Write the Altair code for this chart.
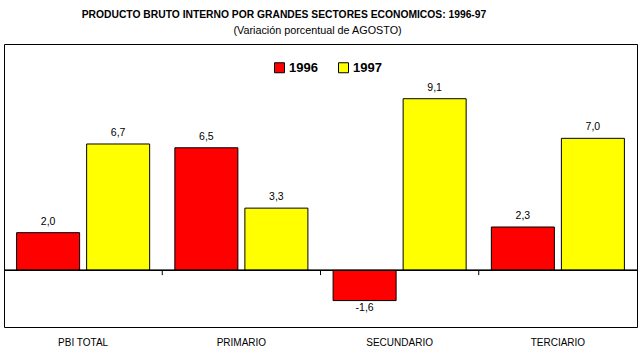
import altair as alt
import pandas as pd

title_text = "PRODUCTO BRUTO INTERNO POR GRANDES SECTORES ECONOMICOS: 1996-97"
subtitle_text = "(Variación porcentual de AGOSTO)"

categories = ["PBI TOTAL", "PRIMARIO", "SECUNDARIO", "TERCIARIO"]
years = ["1996", "1997"]
values_1996 = [2.0, 6.5, -1.6, 2.3]
values_1997 = [6.7, 3.3, 9.1, 7.0]
colors = ["#FF0000", "#FFFF00"]

rows = []
for cat, a, b in zip(categories, values_1996, values_1997):
    for yr, v in ((years[0], a), (years[1], b)):
        rows.append({"sector": cat, "year": yr, "value": v,
                     "label": f"{v:.1f}".replace(".", ",")})
df = pd.DataFrame(rows)
ticks_df = pd.DataFrame({"sector": categories[1:]})

FONT = "Liberation Sans"

x_enc = alt.X("sector:N", sort=categories,
              scale=alt.Scale(paddingInner=0, paddingOuter=0),
              axis=alt.Axis(title=None, labelAngle=0, domain=False, ticks=False,
                            labelPadding=10, labelFont=FONT, labelFontSize=10,
                            labelColor="black", grid=False))
xoff_enc = alt.XOffset("year:N", sort=years,
                       scale=alt.Scale(paddingInner=0.1, paddingOuter=0.18))
y_scale = alt.Scale(domain=[-3, 12], nice=False, zero=True)

base = alt.Chart(df)

bars = base.mark_bar(stroke="black", strokeWidth=1).encode(
    x=x_enc,
    xOffset=xoff_enc,
    y=alt.Y("value:Q", scale=y_scale, axis=None),
    color=alt.Color("year:N", sort=years,
                    scale=alt.Scale(domain=years, range=colors),
                    legend=alt.Legend(title=None, orient="none", direction="horizontal",
                                      legendX=269, legendY=17, padding=0,
                                      symbolType="square", symbolSize=100,
                                      symbolStrokeColor="black", symbolStrokeWidth=1,
                                      symbolOpacity=1,
                                      labelFont=FONT, labelFontSize=13,
                                      labelFontWeight="bold", labelColor="black",
                                      labelOffset=3, columnPadding=18)),
)

pos_labels = base.transform_filter(alt.datum.value >= 0).mark_text(
    dy=-11, baseline="middle", font=FONT, fontSize=10.5, color="black"
).encode(x=x_enc, xOffset=xoff_enc, y=alt.Y("value:Q", scale=y_scale), text="label:N")

neg_labels = base.transform_filter(alt.datum.value < 0).mark_text(
    dy=7, baseline="middle", font=FONT, fontSize=10.5, color="black"
).encode(x=x_enc, xOffset=xoff_enc, y=alt.Y("value:Q", scale=y_scale), text="label:N")

zero_line = alt.Chart(df).mark_rule(color="black", strokeWidth=1).encode(
    y=alt.datum(0, scale=y_scale)
)

sep_ticks = alt.Chart(ticks_df).mark_rule(color="black", strokeWidth=1).encode(
    x=alt.X("sector:N", sort=categories, bandPosition=0),
    y=alt.datum(0),
    y2=alt.datum(-0.25),
)

main_title = alt.Chart(pd.DataFrame({"t": [title_text]})).mark_text(
    font=FONT, fontSize=10.3, fontWeight="bold", color="black",
    baseline="alphabetic", align="center"
).encode(x=alt.value(280), y=alt.value(-26.5), text="t:N")

subtitle = alt.Chart(pd.DataFrame({"t": [subtitle_text]})).mark_text(
    font=FONT, fontSize=10.8, color="black", baseline="alphabetic", align="center"
).encode(x=alt.value(313.5), y=alt.value(-10.5), text="t:N")

chart = alt.layer(bars, zero_line, sep_ticks, pos_labels, neg_labels,
                  main_title, subtitle).properties(
    width=633, height=283,
    padding={"left": 4, "top": 44, "right": 5, "bottom": 30},
    autosize=alt.AutoSizeParams(type="none"),
    background="white",
).configure_view(stroke="black", strokeWidth=1)

chart.save("out.html", embed_options={"renderer": "svg", "actions": False})
